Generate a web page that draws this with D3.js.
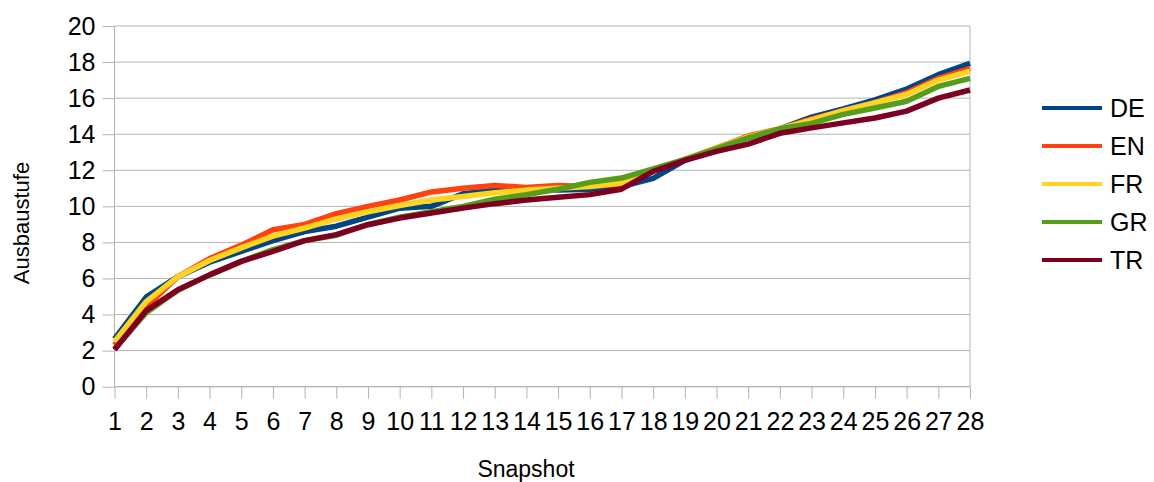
<!DOCTYPE html>
<html>
<head>
<meta charset="utf-8">
<script src="https://cdn.jsdelivr.net/npm/d3@7"></script>
<style>
  body { margin: 0; background: #fff; }
  svg { font-family: "Liberation Sans", Arial, sans-serif; }
</style>
</head>
<body>
<svg id="chart" width="1154" height="482"></svg>
<script>
// Snapshot categories
const snapshots = ["1","2","3","4","5","6","7","8","9","10","11","12","13","14","15","16","17","18","19","20","21","22","23","24","25","26","27","28"];
const yTicks = [0, 2, 4, 6, 8, 10, 12, 14, 16, 18, 20];

// values
const de = [2.65,4.97,6.1,6.9,7.5,8.1,8.6,8.9,9.4,9.9,10.0,10.7,10.9,11.0,10.9,10.95,11.1,11.55,12.55,13.2,13.8,14.3,14.95,15.4,15.9,16.5,17.3,17.93];
const en = [2.3,4.45,6.1,7.1,7.85,8.7,9.0,9.6,10.0,10.35,10.8,11.0,11.15,11.05,11.15,11.1,11.25,11.95,12.6,13.25,13.9,14.3,14.85,15.3,15.75,16.3,17.1,17.65];
const fr = [2.5,4.72,6.1,7.0,7.7,8.35,8.8,9.3,9.7,10.05,10.35,10.55,10.75,10.9,11.0,11.1,11.3,11.95,12.6,13.25,13.85,14.3,14.8,15.3,15.75,16.2,17.0,17.5];
const gr = [2.1,4.1,5.35,6.2,6.95,7.6,8.1,8.4,9.0,9.4,9.7,10.0,10.4,10.65,10.95,11.33,11.57,12.07,12.6,13.2,13.8,14.3,14.6,15.1,15.45,15.83,16.65,17.1];
const tr = [2.05,4.22,5.37,6.2,6.95,7.5,8.1,8.43,8.98,9.35,9.63,9.9,10.15,10.35,10.5,10.65,10.95,11.94,12.55,13.05,13.45,14.05,14.35,14.63,14.9,15.28,16.0,16.45];

const seriesNames = ["DE", "EN", "FR", "GR", "TR"];
const seriesValues = [de, en, fr, gr, tr];
const colors = ["#004586", "#ff420e", "#ffd320", "#579d1c", "#7e0021"];

const svg = d3.select("#chart");
const plotLeft = 114.5, plotRight = 970, plotTop = 26, plotBottom = 386.7;

const x = d3.scalePoint()
  .domain(snapshots)
  .range([plotLeft, plotRight]);

const y = d3.scaleLinear()
  .domain([0, 20])
  .range([plotBottom, plotTop]);

// horizontal grid
svg.append("g")
  .selectAll("line")
  .data(yTicks)
  .enter().append("line")
  .attr("x1", plotLeft).attr("x2", plotRight)
  .attr("y1", d => y(d)).attr("y2", d => y(d))
  .attr("stroke", "#b3b3b3")
  .attr("stroke-width", 1);

// right border
svg.append("line")
  .attr("x1", plotRight).attr("x2", plotRight)
  .attr("y1", plotTop).attr("y2", plotBottom)
  .attr("stroke", "#b3b3b3");

// y axis
const yAxis = svg.append("g")
  .attr("transform", `translate(${plotLeft},0)`)
  .call(d3.axisLeft(y).tickValues(yTicks).tickSize(12).tickPadding(7));
yAxis.selectAll("line, path").attr("stroke", "#b3b3b3");
yAxis.select(".domain").attr("d", `M0,${plotTop}V${plotBottom}`);
yAxis.selectAll("text")
  .attr("fill", "#000")
  .style("font-size", "25px")
  .style("font-family", "Liberation Sans, Arial, sans-serif");

// x axis
const xAxis = svg.append("g")
  .attr("transform", `translate(0,${plotBottom})`)
  .call(d3.axisBottom(x).tickSize(12).tickPadding(13));
xAxis.selectAll("line, path").attr("stroke", "#b3b3b3");
xAxis.select(".domain").attr("d", `M${plotLeft},0H${plotRight}`);
xAxis.selectAll("text")
  .attr("fill", "#000")
  .attr("dy", "0.72em")
  .style("font-size", "25px")
  .style("font-family", "Liberation Sans, Arial, sans-serif");

// lines
const line = d3.line()
  .x((d, i) => x(snapshots[i]))
  .y(d => y(d));

seriesValues.forEach((vals, k) => {
  svg.append("path")
    .datum(vals)
    .attr("fill", "none")
    .attr("stroke", colors[k])
    .attr("stroke-width", 5.5)
    .attr("stroke-linejoin", "round")
    .attr("d", line);
});

// axis titles
svg.append("text")
  .attr("transform", "translate(29,223) rotate(-90)")
  .attr("text-anchor", "middle")
  .style("font-size", "22px")
  .text("Ausbaustufe");

svg.append("text")
  .attr("x", 526)
  .attr("y", 477)
  .attr("text-anchor", "middle")
  .style("font-size", "23px")
  .text("Snapshot");

// legend
const legend = svg.append("g")
  .selectAll("g")
  .data(seriesNames)
  .enter().append("g")
  .attr("transform", (d, i) => `translate(1042,${108 + i * 38})`);

legend.append("line")
  .attr("x1", 0).attr("x2", 60)
  .attr("stroke", (d, i) => colors[i])
  .attr("stroke-width", 4);

legend.append("text")
  .attr("x", 68)
  .attr("dy", "0.36em")
  .style("font-size", "25px")
  .text(d => d);
</script>
</body>
</html>
